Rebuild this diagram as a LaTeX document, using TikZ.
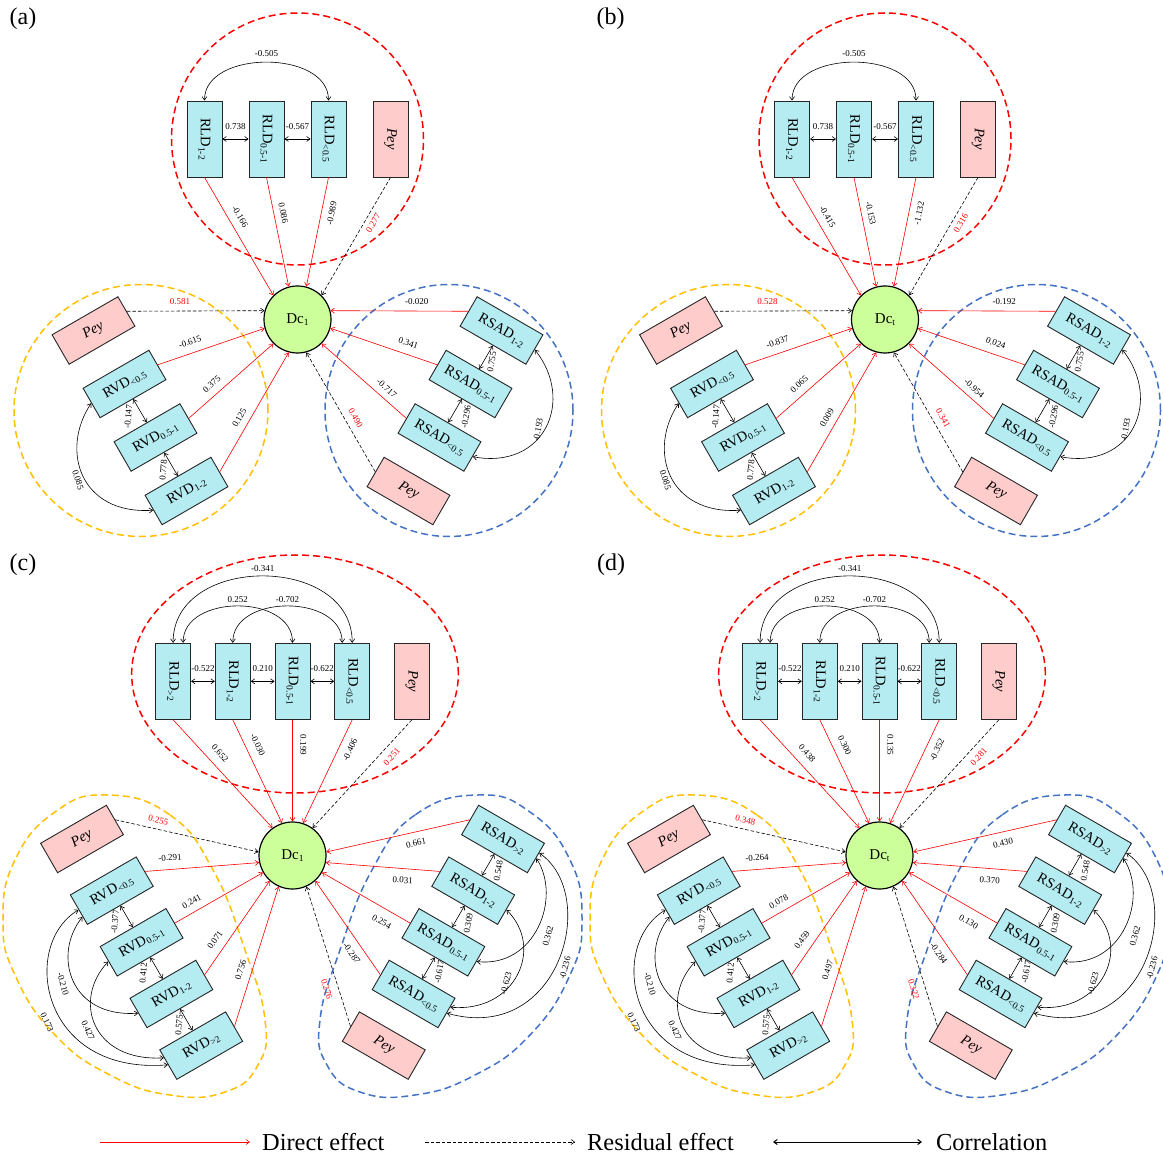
\documentclass[tikz,border=0pt]{standalone}
\usepackage{fontspec}
\setmainfont{Liberation Serif}
\usepackage{graphicx}
\usetikzlibrary{arrows.meta,calc}

\definecolor{boxcyan}{RGB}{180,236,242}
\definecolor{peypink}{RGB}{255,204,204}
\definecolor{dcgreen}{RGB}{204,255,153}
\definecolor{ringyellow}{RGB}{255,192,0}
\definecolor{ringblue}{RGB}{68,114,196}

\newcommand\lsub[1]{\raisebox{-0.35ex}{\fontsize{9.5}{10}\selectfont #1}}

\tikzset{
  varbox/.style={draw=black!85, line width=0.9pt, fill=boxcyan, inner sep=0pt, font=\fontsize{14.5}{16}\selectfont},
  vbox/.style={varbox, minimum width=35pt, minimum height=76pt},
  tbox/.style={varbox, minimum width=76pt, minimum height=34pt},
  peyfill/.style={fill=peypink},
  dcnode/.style={circle, draw=black, line width=1.2pt, fill=dcgreen, minimum size=67pt, inner sep=0pt, font=\fontsize{15}{16}\selectfont},
  direct/.style={draw=red, line width=0.6pt, -{Straight Barb[length=3.5pt,width=5pt]}},
  resid/.style={draw=black, line width=0.6pt, dash pattern=on 3.5pt off 2pt, -{Straight Barb[length=3.5pt,width=5pt]}},
  corr/.style={draw=black, line width=0.6pt, {Straight Barb[length=3.5pt,width=5pt]}-{Straight Barb[length=3.5pt,width=5pt]}},
  ring/.style={line width=1.5pt, dash pattern=on 7pt off 4pt},
  num/.style={font=\fontsize{9}{10}\selectfont, inner sep=0pt},
  rnum/.style={num, text=red},
  plab/.style={font=\fontsize{24}{26}\selectfont, inner sep=0pt},
  legtext/.style={font=\fontsize{24.4}{26}\selectfont, inner sep=0pt, anchor=base west},
}

% layout of a panel with three size classes
\newcommand\panelAB{%
  \draw[ring, draw=red] (297.5,139) ellipse [x radius=126pt, y radius=126pt];
  \draw[ring, draw=ringyellow] (141,410.5) ellipse [x radius=127pt, y radius=126pt];
  \draw[ring, draw=ringblue] (449,410.5) ellipse [x radius=124pt, y radius=126pt];
  \node[dcnode] (dc) at (297.5,319.5) {Dc\lsub{\vDc}};
  % root length density
  \node[vbox] (RLDa) at (204.5,139) {\rotatebox{-90}{RLD\lsub{1-2}}};
  \node[vbox] (RLDb) at (266.5,139) {\rotatebox{-90}{RLD\lsub{0.5-1}}};
  \node[vbox] (RLDc) at (328.5,139) {\rotatebox{-90}{RLD\lsub{<0.5}}};
  \node[vbox, peyfill] (peyT) at (390.5,139) {\rotatebox{-90}{\textit{Pey}}};
  \draw[corr] (RLDa.east) -- (RLDb.west);
  \draw[corr] (RLDb.east) -- (RLDc.west);
  \draw[corr] (RLDa.north) .. controls ($(RLDa.north)+(0,-51)$) and ($(RLDc.north)+(0,-51)$) .. (RLDc.north);
  \node[num] (tHa) at (235.5,127) {\vThA};
  \node[num] (tHb) at (297.5,127) {\vThB};
  \node[num] (tArc) at (266.5,54) {\vTarc};
  \draw[direct] (RLDa.south) -- (dc.135);
  \draw[direct] (RLDb.south) -- (dc.105);
  \draw[direct] (RLDc.south) -- (dc.75);
  \draw[resid] (peyT.south) -- (dc.45);
  \node[num, rotate=-59.7] (tDa) at (240,216.7) {\vTdA};
  \node[num, rotate=-78.5] (tDb) at (283.3,213.3) {\vTdB};
  \node[num, rotate=78.5] (tDc) at (331.7,213.3) {\vTdC};
  \node[rnum, rotate=59.7] (tPey) at (373.3,223.3) {\vTpey};
  % root volume density
  \node[tbox, peyfill, rotate=30] (peyL) at (93.5,330.5) {\textit{Pey}};
  \node[tbox, rotate=30] (RVDa) at (124.5,384) {RVD\lsub{<0.5}};
  \node[tbox, rotate=30] (RVDb) at (155.5,437.5) {RVD\lsub{0.5-1}};
  \node[tbox, rotate=30] (RVDc) at (186.5,491) {RVD\lsub{1-2}};
  \draw[resid] (peyL.east) -- (dc.165);
  \draw[direct] (RVDa.east) -- (dc.195);
  \draw[direct] (RVDb.east) -- (dc.225);
  \draw[direct] (RVDc.east) -- (dc.255);
  \node[rnum] (lPey) at (180,301.7) {\vLpey};
  \node[num, rotate=18.9] (lDa) at (190,341.7) {\vLdA};
  \node[num, rotate=41.4] (lDb) at (211.7,384.3) {\vLdB};
  \node[num, rotate=60] (lDc) at (239.3,417.7) {\vLdC};
  \draw[corr] (RVDa.south) -- (RVDb.north);
  \draw[corr] (RVDb.south) -- (RVDc.north);
  \draw[corr] (RVDa.west) .. controls (60,450) and (80,515) .. (RVDc.west);
  \node[num, rotate=85] (lCa) at (128.3,416.7) {\vLcA};
  \node[num, rotate=85] (lCb) at (163.3,470) {\vLcB};
  \node[num, rotate=-72] (lK) at (78,480) {\vLk};
  % root surface area density
  \node[tbox, rotate=-30] (RSADa) at (501.5,330.5) {RSAD\lsub{1-2}};
  \node[tbox, rotate=-30] (RSADb) at (470.5,384) {RSAD\lsub{0.5-1}};
  \node[tbox, rotate=-30] (RSADc) at (439.5,437.5) {RSAD\lsub{<0.5}};
  \node[tbox, peyfill, rotate=-30] (peyR) at (408.5,491) {\textit{Pey}};
  \draw[direct] (RSADa.west) -- (dc.15);
  \draw[direct] (RSADb.west) -- (dc.-15);
  \draw[direct] (RSADc.west) -- (dc.-45);
  \draw[resid] (peyR.west) -- (dc.-75);
  \node[num] (rDa) at (416.7,301.7) {\vRdA};
  \node[num, rotate=-18.9] (rDb) at (408.3,343.3) {\vRdB};
  \node[num, rotate=-41.4] (rDc) at (386.7,388.3) {\vRdC};
  \node[rnum, rotate=-60] (rPey) at (355.7,418.3) {\vRpey};
  \draw[corr] (RSADa.south) -- (RSADb.north);
  \draw[corr] (RSADb.south) -- (RSADc.north);
  \draw[corr] (RSADa.east) .. controls (575,400) and (545,470) .. (RSADc.east);
  \node[num, rotate=80] (rCa) at (491.7,361.7) {\vRcA};
  \node[num, rotate=80] (rCb) at (466,416.7) {\vRcB};
  \node[num, rotate=80] (rK) at (538,430) {\vRk};
}

% layout of a panel with four size classes
\newcommand\panelCD{%
  \draw[ring, draw=red] (295,674) ellipse [x radius=163.3pt, y radius=119pt];
  \draw[ring, draw=ringyellow] plot[smooth cycle, tension=0.8] coordinates {(107,795) (170,815) (213,870) (245,950) (265,1020) (258,1065) (225,1092) (170,1095) (110,1075) (55,1035) (15,975) (3,920) (15,860) (55,812)};
  \draw[ring, draw=ringblue] plot[smooth cycle, tension=0.8] coordinates {(478,795) (415,815) (372,870) (340,950) (320,1020) (327,1065) (360,1092) (415,1095) (475,1075) (530,1035) (570,975) (582,920) (570,860) (530,812)};
  \node[dcnode] (dc) at (292.5,855.5) {Dc\lsub{\vDc}};
  % root length density
  \node[vbox] (RLDa) at (173.1,681.3) {\rotatebox{-90}{RLD\lsub{>2}}};
  \node[vbox] (RLDb) at (232.8,681.3) {\rotatebox{-90}{RLD\lsub{1-2}}};
  \node[vbox] (RLDc) at (292.5,681.3) {\rotatebox{-90}{RLD\lsub{0.5-1}}};
  \node[vbox] (RLDd) at (352.2,681.3) {\rotatebox{-90}{RLD\lsub{<0.5}}};
  \node[vbox, peyfill] (peyT) at (411.9,681.3) {\rotatebox{-90}{\textit{Pey}}};
  \draw[corr] (RLDa.east) -- (RLDb.west);
  \draw[corr] (RLDb.east) -- (RLDc.west);
  \draw[corr] (RLDc.east) -- (RLDd.west);
  \node[num] (tHa) at (203,668.3) {\vThA};
  \node[num] (tHb) at (262.7,668.3) {\vThB};
  \node[num] (tHc) at (322.3,668.3) {\vThC};
  \draw[corr] (RLDa.north) .. controls ($(RLDa.north)+(0,-89)$) and ($(RLDd.north)+(0,-89)$) .. (RLDd.north);
  \draw[corr] ($(RLDa.north)+(10,0)$) .. controls ($(RLDa.north)+(10,-49)$) and ($(RLDc.north)+(0,-49)$) .. (RLDc.north);
  \draw[corr] (RLDb.north) .. controls ($(RLDb.north)+(0,-49)$) and ($(RLDd.north)+(-10,-49)$) .. ($(RLDd.north)+(-10,0)$);
  \node[num] (tArcA) at (262.7,569) {\vTarcA};
  \node[num] (tArcB) at (237.8,599.3) {\vTarcB};
  \node[num] (tArcC) at (287.5,599.3) {\vTarcC};
  \draw[direct] (RLDa.south) -- (dc.126);
  \draw[direct] (RLDb.south) -- (dc.108);
  \draw[direct] (RLDc.south) -- (dc.90);
  \draw[direct] (RLDd.south) -- (dc.72);
  \draw[resid] (peyT.south) -- (dc.54);
  \node[num, rotate=-47.6] (tDa) at (220,753.3) {\vTdA};
  \node[num, rotate=-64.7] (tDb) at (257.7,745) {\vTdB};
  \node[num, rotate=-90] (tDc) at (303.3,745) {\vTdC};
  \node[num, rotate=64.7] (tDd) at (350,750) {\vTdD};
  \node[rnum, rotate=47.6] (tPey) at (391.7,756.7) {\vTpey};
  % root volume density
  \node[tbox, peyfill, rotate=30] (peyL) at (82,839) {\textit{Pey}};
  \node[tbox, rotate=30] (RVDa) at (111.8,890.65) {RVD\lsub{<0.5}};
  \node[tbox, rotate=30] (RVDb) at (141.6,942.3) {RVD\lsub{0.5-1}};
  \node[tbox, rotate=30] (RVDc) at (171.4,993.95) {RVD\lsub{1-2}};
  \node[tbox, rotate=30] (RVDd) at (201.2,1045.6) {RVD\lsub{>2}};
  \draw[resid] (peyL.east) -- (dc.174);
  \draw[direct] (RVDa.east) -- (dc.192);
  \draw[direct] (RVDb.east) -- (dc.210);
  \draw[direct] (RVDc.east) -- (dc.228);
  \draw[direct] (RVDd.east) -- (dc.246);
  \node[rnum, rotate=-12.5] (lPey) at (158.3,820) {\vLpey};
  \node[num, rotate=4.6] (lDa) at (170,857.7) {\vLdA};
  \node[num, rotate=29.8] (lDb) at (191.7,901.7) {\vLdB};
  \node[num, rotate=55.2] (lDc) at (215,940) {\vLdC};
  \node[num, rotate=72.3] (lDd) at (240.7,970) {\vLdD};
  \draw[corr] (RVDa.south) -- (RVDb.north);
  \draw[corr] (RVDb.south) -- (RVDc.north);
  \draw[corr] (RVDc.south) -- (RVDd.north);
  \node[num, rotate=85] (lCa) at (115,921.7) {\vLcA};
  \node[num, rotate=85] (lCb) at (143.3,973.3) {\vLcB};
  \node[num, rotate=85] (lCc) at (179,1025) {\vLcC};
  \draw[corr] (RVDa.west) .. controls (20,945) and (40,1075) .. (RVDd.west);
  \draw[corr] ($(RVDa.west)+(4,7)$) .. controls (52,955) and (70,1018) .. (RVDc.west);
  \draw[corr] (RVDb.west) .. controls (72,1000) and (92,1062) .. ($(RVDd.west)+(-4,-7)$);
  \node[num, rotate=-75] (lKa) at (63,984) {\vLkA};
  \node[num, rotate=-65] (lKb) at (47,1022) {\vLkB};
  \node[num, rotate=-65] (lKc) at (88,1030) {\vLkC};
  % root surface area density
  \node[tbox, rotate=-30] (RSADa) at (503,839) {RSAD\lsub{>2}};
  \node[tbox, rotate=-30] (RSADb) at (473.2,890.65) {RSAD\lsub{1-2}};
  \node[tbox, rotate=-30] (RSADc) at (443.4,942.3) {RSAD\lsub{0.5-1}};
  \node[tbox, rotate=-30] (RSADd) at (413.6,993.95) {RSAD\lsub{<0.5}};
  \node[tbox, peyfill, rotate=-30] (peyR) at (383.8,1045.6) {\textit{Pey}};
  \draw[direct] (RSADa.west) -- (dc.6);
  \draw[direct] (RSADb.west) -- (dc.-12);
  \draw[direct] (RSADc.west) -- (dc.-30);
  \draw[direct] (RSADd.west) -- (dc.-48);
  \draw[resid] (peyR.west) -- (dc.-66);
  \node[num, rotate=12.5] (rDa) at (416,843.3) {\vRdA};
  \node[num, rotate=-4.5] (rDb) at (402.7,880) {\vRdB};
  \node[num, rotate=-29.8] (rDc) at (381.7,921.7) {\vRdC};
  \node[num, rotate=-55.2] (rDd) at (351.7,953.3) {\vRdD};
  \node[rnum, rotate=-72.3] (rPey) at (326.7,989.3) {\vRpey};
  \draw[corr] (RSADa.south) -- (RSADb.north);
  \draw[corr] (RSADb.south) -- (RSADc.north);
  \draw[corr] (RSADc.south) -- (RSADd.north);
  \node[num, rotate=80] (rCa) at (498.3,871) {\vRcA};
  \node[num, rotate=80] (rCb) at (468.3,923.3) {\vRcB};
  \node[num, rotate=80] (rCc) at (439.3,971.7) {\vRcC};
  \draw[corr] (RSADa.east) .. controls (562,898) and (535,968) .. (RSADc.east);
  \draw[corr] (RSADb.east) .. controls (545,948) and (515,1013) .. ($(RSADd.east)+(3.5,-6)$);
  \draw[corr] ($(RSADa.east)+(3,-5.2)$) .. controls (600,895) and (560,1045) .. (RSADd.east);
  \node[num, rotate=75] (rKa) at (548,936) {\vRkA};
  \node[num, rotate=75] (rKb) at (506,983.3) {\vRkB};
  \node[num, rotate=75] (rKc) at (565,968) {\vRkC};
}

\begin{document}
\begin{tikzpicture}[x=1pt, y=-1pt]
\useasboundingbox (0,0) rectangle (1163,1155);
\fill[white] (0,0) rectangle (1163,1155);

% panel (a)
\begin{scope}[name prefix=a-]
  \def\vDc{1}
  \def\vTarc{-0.505}\def\vThA{0.738}\def\vThB{-0.567}
  \def\vTdA{-0.166}\def\vTdB{0.086}\def\vTdC{-0.989}\def\vTpey{0.277}
  \def\vLpey{0.581}\def\vLdA{-0.615}\def\vLdB{0.375}\def\vLdC{0.125}
  \def\vLcA{-0.147}\def\vLcB{0.778}\def\vLk{0.085}
  \def\vRdA{-0.020}\def\vRdB{0.341}\def\vRdC{-0.717}\def\vRpey{0.490}
  \def\vRcA{0.755}\def\vRcB{-0.296}\def\vRk{-0.193}
  \panelAB
  \node[plab] (label) at (23,19) {(a)};
\end{scope}

% panel (b)
\begin{scope}[name prefix=b-, shift={(587.5,0)}]
  \def\vDc{t}
  \def\vTarc{-0.505}\def\vThA{0.738}\def\vThB{-0.567}
  \def\vTdA{-0.415}\def\vTdB{-0.153}\def\vTdC{-1.132}\def\vTpey{0.316}
  \def\vLpey{0.528}\def\vLdA{-0.837}\def\vLdB{0.065}\def\vLdC{0.009}
  \def\vLcA{-0.147}\def\vLcB{0.778}\def\vLk{0.085}
  \def\vRdA{-0.192}\def\vRdB{0.024}\def\vRdC{-0.954}\def\vRpey{0.341}
  \def\vRcA{0.755}\def\vRcB{-0.296}\def\vRk{-0.193}
  \panelAB
  \node[plab] (label) at (23,19) {(b)};
\end{scope}

% panel (c)
\begin{scope}[name prefix=c-]
  \def\vDc{1}
  \def\vTarcA{-0.341}\def\vTarcB{0.252}\def\vTarcC{-0.702}
  \def\vThA{-0.522}\def\vThB{0.210}\def\vThC{-0.622}
  \def\vTdA{0.652}\def\vTdB{-0.030}\def\vTdC{0.199}\def\vTdD{-0.406}\def\vTpey{0.251}
  \def\vLpey{0.255}\def\vLdA{-0.291}\def\vLdB{0.241}\def\vLdC{0.071}\def\vLdD{0.756}
  \def\vLcA{-0.377}\def\vLcB{0.412}\def\vLcC{0.575}
  \def\vLkA{-0.210}\def\vLkB{0.173}\def\vLkC{0.427}
  \def\vRdA{0.661}\def\vRdB{0.031}\def\vRdC{0.254}\def\vRdD{-0.287}\def\vRpey{0.276}
  \def\vRcA{0.548}\def\vRcB{0.309}\def\vRcC{-0.617}
  \def\vRkA{0.362}\def\vRkB{-0.623}\def\vRkC{-0.236}
  \panelCD
  \node[plab] (label) at (23,565) {(c)};
\end{scope}

% panel (d)
\begin{scope}[name prefix=d-, shift={(587,0)}]
  \def\vDc{t}
  \def\vTarcA{-0.341}\def\vTarcB{0.252}\def\vTarcC{-0.702}
  \def\vThA{-0.522}\def\vThB{0.210}\def\vThC{-0.622}
  \def\vTdA{0.438}\def\vTdB{0.300}\def\vTdC{0.135}\def\vTdD{-0.352}\def\vTpey{0.281}
  \def\vLpey{0.348}\def\vLdA{-0.264}\def\vLdB{0.078}\def\vLdC{0.459}\def\vLdD{0.497}
  \def\vLcA{-0.377}\def\vLcB{0.412}\def\vLcC{0.575}
  \def\vLkA{-0.210}\def\vLkB{0.173}\def\vLkC{0.427}
  \def\vRdA{0.430}\def\vRdB{0.370}\def\vRdC{0.130}\def\vRdD{-0.284}\def\vRpey{0.322}
  \def\vRcA{0.548}\def\vRcB{0.309}\def\vRcC{-0.617}
  \def\vRkA{0.362}\def\vRkB{-0.623}\def\vRkC{-0.236}
  \panelCD
  \node[plab] (label) at (24,565) {(d)};
\end{scope}

% legend
\coordinate (lgA) at (100,1142);
\coordinate (lgB) at (250,1142);
\draw[direct] (lgA) -- (lgB);
\node[legtext] (lgT1) at (262,1150) {Direct effect};
\coordinate (lgC) at (425,1142);
\coordinate (lgD) at (575,1142);
\draw[resid] (lgC) -- (lgD);
\node[legtext] (lgT2) at (587,1150) {Residual effect};
\coordinate (lgE) at (773,1142);
\coordinate (lgF) at (922,1142);
\draw[corr, line width=1pt] (lgE) -- (lgF);
\node[legtext] (lgT3) at (936,1150) {Correlation};
\end{tikzpicture}
\end{document}
